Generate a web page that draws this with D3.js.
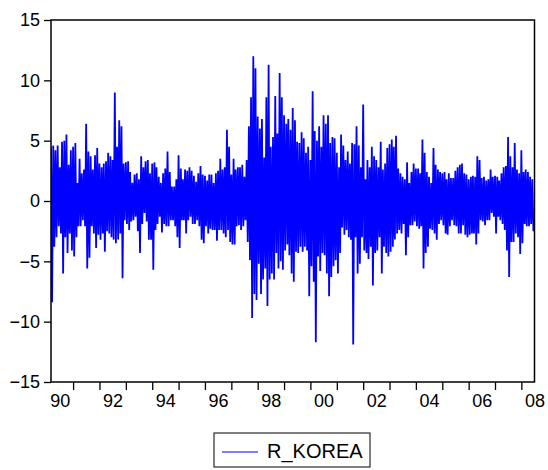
<!DOCTYPE html>
<html>
<head>
<meta charset="utf-8">
<script src="https://cdn.jsdelivr.net/npm/d3@7"></script>
<style>
  body { margin: 0; background: #fff; }
  text { font-family: Arial, "Liberation Sans", sans-serif; }
</style>
</head>
<body>
<div id="chart"></div>
<script>
// monthly high / low of the daily returns, Mar 1990 .. Jun 2008
var firstYear = 1990, firstMonth = 2;
var hiVals = [
  4.5,4.6,4.2,4.6,2.8,4.9,5.0,5.5,3.0,4.2, 4.5,4.8,1.5,3.5,2.3,2.6,6.4,4.1,3.7,2.6,
  3.8,4.4,3.1,2.8,3.1,3.3,4.0,3.7,3.4,9.0, 4.5,6.7,6.2,3.1,3.2,3.3,2.4,1.5,2.2,2.3,
  1.8,3.7,2.8,3.3,
  3.4,2.3,3.1,3.2,2.8,2.0,1.5,2.3,2.7,4.1, 2.4,1.2,1.2,1.8,3.8,2.7,1.8,2.6,2.5,2.8,
  2.5,2.1,1.6,2.3,2.9,2.2,2.1,1.7,2.2,2.2, 1.5,2.3,2.5,3.5,2.6,2.8,5.9,4.5,2.2,3.5,
  2.6,2.8,2.8,3.0,
  2.0,3.4,6.2,8.6,12.0,11.0,7.0,6.0,6.8,3.6, 8.6,11.3,4.5,5.3,8.7,5.6,10.6,8.6,7.1,6.4,
  6.8,5.9,7.7,6.7,4.9,4.8,5.7,5.2,4.0,4.5, 3.4,9.1,5.8,5.0,6.2,4.5,7.1,6.4,7.1,4.8,
  5.3,5.2,4.0,2.8,
  5.5,4.6,3.4,4.1,3.1,4.8,4.7,6.2,4.6,2.8, 8.0,1.8,3.4,2.8,4.5,3.7,3.4,2.8,4.9,2.6,
  3.1,4.4,4.7,5.1,4.5,5.4,2.7,2.3,2.0,1.8, 3.2,1.5,2.4,3.1,2.7,2.7,2.3,5.1,4.0,2.4,
  2.0,1.5,4.4,3.0,
  2.6,2.4,2.3,2.4,1.8,2.3,1.9,1.9,2.5,2.8, 3.0,3.1,2.3,2.2,1.8,2.0,2.1,2.0,3.7,3.4,
  1.9,2.0,1.7,1.8,2.6,2.0,2.1,2.0,1.7,2.3, 2.8,2.9,5.3,3.7,2.8,4.8,2.6,2.3,4.2,2.4,
  2.6,2.4,2.0,1.8
];
var loVals = [
  -8.4,-3.8,-3.0,-2.1,-2.7,-6.0,-3.0,-4.3,-2.7,-4.1, -4.6,-3.0,-2.1,-2.1,-1.6,-2.1,-5.6,-4.7,-2.1,-2.7,
  -3.9,-2.8,-3.2,-2.7,-4.2,-2.5,-2.7,-3.0,-3.2,-3.5, -3.2,-2.7,-6.4,-1.6,-1.9,-2.4,-1.7,-1.6,-1.3,-2.5,
  -4.3,-1.9,-1.0,-1.7,
  -3.2,-3.2,-5.7,-2.4,-1.9,-1.3,-2.6,-1.9,-2.1,-2.1, -1.6,-1.6,-2.1,-3.0,-3.9,-1.6,-1.6,-2.7,-1.6,-1.3,
  -1.9,-1.9,-1.6,-2.1,-3.2,-3.5,-2.1,-2.7,-2.3,-2.4, -2.4,-3.3,-2.4,-2.4,-2.7,-3.0,-2.4,-3.4,-3.6,-3.6,
  -2.1,-2.0,-2.4,-2.1,
  -1.6,-3.4,-4.9,-9.7,-7.7,-8.2,-5.2,-7.7,-6.5,-5.6, -8.7,-6.5,-6.0,-6.5,-4.3,-5.6,-5.0,-5.7,-4.1,-3.6,
  -4.5,-6.0,-6.7,-4.2,-4.3,-3.8,-4.2,-3.8,-4.1,-7.9, -5.4,-6.7,-11.7,-4.6,-5.8,-4.3,-4.5,-6.0,-7.9,-6.3,
  -5.4,-4.9,-6.0,-4.3,
  -2.2,-2.8,-2.4,-3.0,-3.2,-11.9,-3.0,-6.0,-5.2,-3.0, -4.1,-4.3,-4.8,-3.8,-7.0,-4.3,-4.1,-3.0,-6.0,-3.8,
  -4.3,-4.6,-4.2,-3.8,-3.2,-2.7,-2.4,-2.7,-1.9,-4.5, -3.0,-2.0,-2.0,-1.7,-2.1,-2.3,-2.1,-5.6,-4.3,-3.8,
  -2.3,-2.4,-2.7,-3.2,
  -1.9,-1.6,-2.0,-2.7,-2.8,-2.1,-1.6,-2.0,-2.1,-2.7, -2.7,-2.0,-2.8,-3.0,-2.8,-2.7,-2.7,-3.6,-2.7,-1.6,
  -1.7,-2.0,-1.6,-1.6,-1.0,-1.3,-2.7,-1.3,-1.6,-1.9, -2.4,-4.1,-6.3,-3.4,-3.4,-2.7,-3.0,-4.4,-3.5,-1.9,
  -2.1,-2.1,-1.9,-2.5
];
var yTicks = [-15, -10, -5, 0, 5, 10, 15];
var labelYears = d3.range(1990, 2009, 2);
var seriesName = "R_KOREA";

var width = 548, height = 470;
var plotL = 51, plotR = 534.5, plotT = 20, plotB = 382;

var svg = d3.select("#chart").append("svg")
  .attr("width", width)
  .attr("height", height);

var x = d3.scaleTime()
  .domain([new Date(firstYear, firstMonth, 1), new Date(firstYear, firstMonth + hiVals.length, 1)])
  .range([plotL, plotR]);
var y = d3.scaleLinear().domain([-15, 15]).range([plotB, plotT]);

// zig-zag through each month's high and low
var pts = [];
hiVals.forEach(function(h, i) {
  pts.push({ d: new Date(firstYear, firstMonth + i, 1), v: h });
  pts.push({ d: new Date(firstYear, firstMonth + i, 16), v: loVals[i] });
});

svg.append("clipPath").attr("id", "plotclip")
  .append("rect").attr("x", plotL).attr("y", plotT)
  .attr("width", plotR - plotL).attr("height", plotB - plotT);

var line = d3.line()
  .x(function(p) { return x(p.d); })
  .y(function(p) { return y(p.v); });

svg.append("path")
  .datum(pts)
  .attr("clip-path", "url(#plotclip)")
  .attr("d", line)
  .attr("fill", "none")
  .attr("stroke", "#0000ff")
  .attr("stroke-width", 1.8)
  .attr("stroke-linejoin", "bevel");

// axes
svg.append("g")
  .attr("transform", "translate(" + plotL + ",0)")
  .call(d3.axisLeft(y).tickValues(yTicks).tickSize(7).tickPadding(4));

var yearTicks = d3.timeYear.range(new Date(1991, 0, 1), new Date(2008, 1, 1));
svg.append("g")
  .attr("transform", "translate(0," + plotB + ")")
  .call(d3.axisBottom(x).tickValues(yearTicks).tickSize(8).tickFormat(""));

svg.append("g")
  .attr("transform", "translate(0," + plotB + ")")
  .call(d3.axisBottom(x)
    .tickValues(labelYears.map(function(yr) { return new Date(yr, 6, 1); }))
    .tickSize(0).tickPadding(12)
    .tickFormat(d3.timeFormat("%y")));

svg.selectAll(".domain").remove();
svg.selectAll(".tick line").attr("stroke", "#000").attr("stroke-width", 1.3);
svg.selectAll(".tick text").attr("fill", "#000").style("font-size", "18px");

svg.append("rect")
  .attr("x", plotL).attr("y", plotT)
  .attr("width", plotR - plotL).attr("height", plotB - plotT)
  .attr("fill", "none").attr("stroke", "#000").attr("stroke-width", 1.5);

// legend
var lg = svg.append("g");
lg.append("rect")
  .attr("x", 214).attr("y", 433).attr("width", 156).attr("height", 34)
  .attr("fill", "#fff").attr("stroke", "#000").attr("stroke-width", 1);
lg.append("line")
  .attr("x1", 222).attr("x2", 258).attr("y1", 452).attr("y2", 452)
  .attr("stroke", "#0000ff").attr("stroke-width", 1);
lg.append("text")
  .attr("x", 267).attr("y", 457.5)
  .style("font-size", "20px")
  .text(seriesName);
</script>
</body>
</html>
